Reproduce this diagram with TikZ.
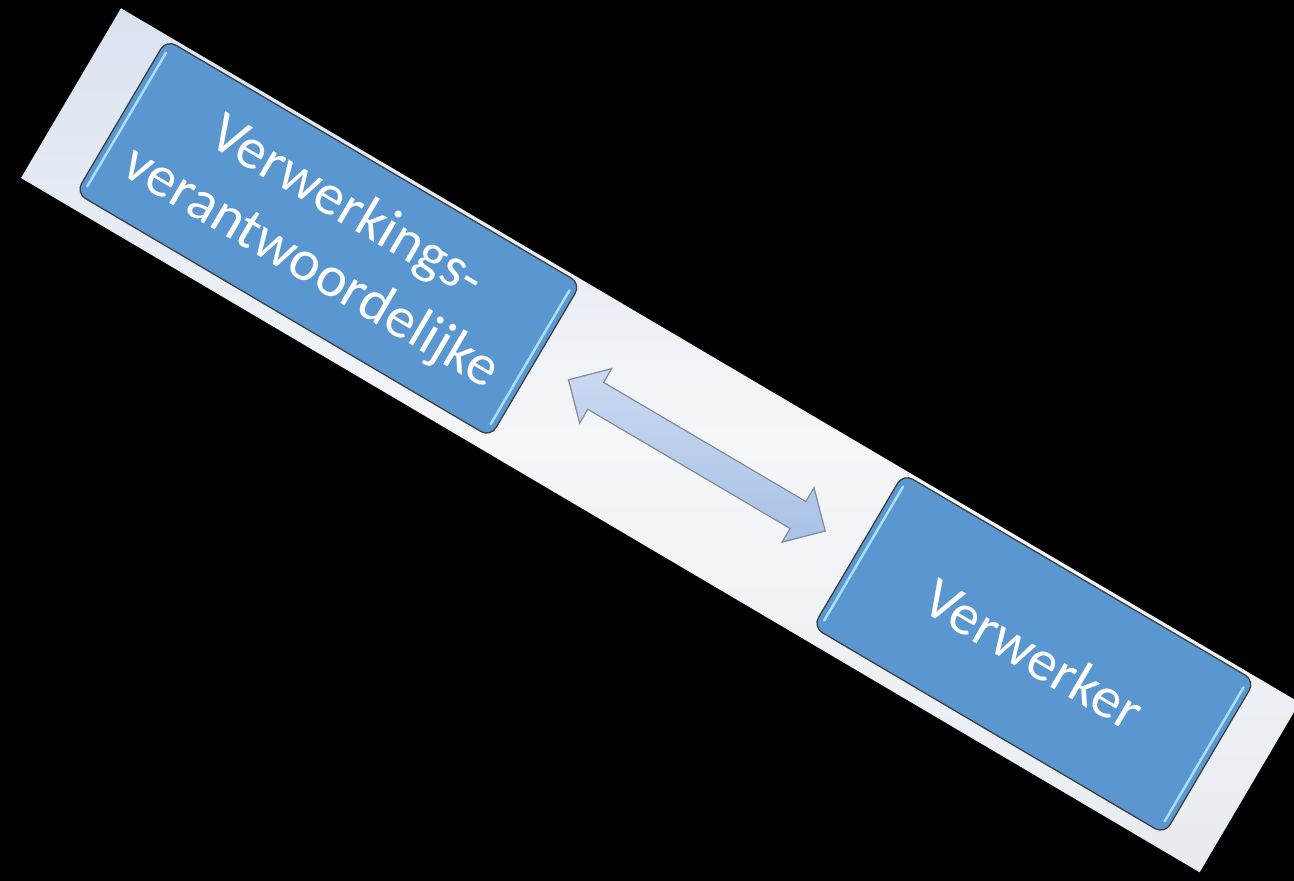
\documentclass[tikz,border=0pt]{standalone}
\usepackage{fontspec}
\usetikzlibrary{positioning,calc,shapes.arrows}
\newfontfamily\kaderfont{Carlito}
\definecolor{blokblauw}{HTML}{5A96D0}
\definecolor{blokrand}{HTML}{3F3F3F}
\definecolor{gloedblauw}{HTML}{A9DFFB}
\definecolor{pijlblauw}{HTML}{A9C2E7}
\definecolor{pijllicht}{HTML}{C9D9F0}
\definecolor{pijlrand}{HTML}{858B94}
\definecolor{strookboven}{HTML}{D9E3F0}
\definecolor{strookmidden}{HTML}{F5F6F8}
\definecolor{strookonder}{HTML}{E8ECF1}
\tikzset{
	blok/.style={rectangle, rounded corners=11bp, fill=blokblauw, draw=blokrand, line width=1.3bp,
		text=white, font=\kaderfont\fontsize{58bp}{70bp}\selectfont, align=center, inner sep=0pt,
		minimum height=178bp},
	gloed/.style={gloedblauw, line width=2.5bp, line cap=round, shorten <=12bp, shorten >=12bp},
	dubbelpijl/.style={double arrow, double arrow head extend=16bp, inner xsep=0pt, inner ysep=15bp,
		minimum height=298bp, top color=pijllicht, bottom color=pijlblauw, draw=pijlrand, line width=1.2bp},
	strook/.style={rectangle, inner sep=0pt, minimum width=1368bp, minimum height=197bp,
		top color=strookboven, bottom color=strookonder, middle color=strookmidden}
}
\begin{document}
\begin{tikzpicture}[x=1bp,y=1bp]
	\useasboundingbox (0,0) rectangle (1294,-881);
	\fill[black] (0,0) rectangle (1294,-881);
	\clip (0,0) rectangle (1294,-881);
	\begin{scope}[shift={(21,-178)}, rotate=-30.5, transform shape]
		% achtergrondstrook
		\node[strook] (strook) at (684,98.5) {};
		% de twee blokken
		\node[blok, minimum width=481bp] (verantw) at (295.5,104) {Verwerkings-\\verantwoordelijke};
		\node[blok, minimum width=408bp, right=373bp of verantw] (verwerker) {Verwerker};
		% pijl ertussen
		\path (verantw.east) -- (verwerker.west) node[midway, dubbelpijl] (pijl) {};
		\foreach \n in {verantw,verwerker} {
			\draw[gloed] ($(\n.north west)!7bp!(\n.north east)$) -- ($(\n.south west)!7bp!(\n.south east)$);
			\draw[gloed] ($(\n.north east)!7bp!(\n.north west)$) -- ($(\n.south east)!7bp!(\n.south west)$);
		}
	\end{scope}
\end{tikzpicture}
\end{document}
